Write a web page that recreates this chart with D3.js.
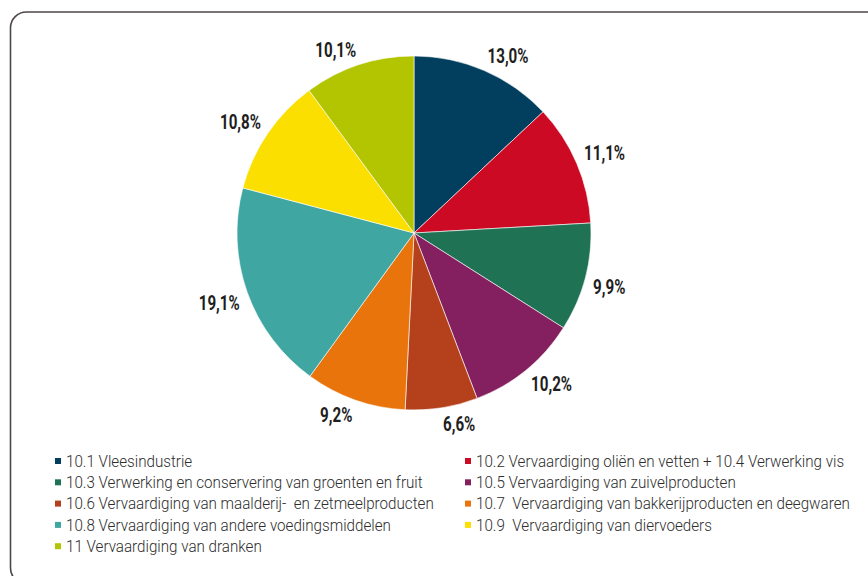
<!DOCTYPE html>
<html>
<head>
<meta charset="utf-8">
<script src="https://cdn.jsdelivr.net/npm/d3@7"></script>
<style>
  html, body { margin: 0; padding: 0; background: #fff; }
  svg { display: block; }
</style>
</head>
<body>
<svg id="chart" width="868" height="576"></svg>
<script>
// Share of food & beverage industry by NACE sub-sector (%)
const categories = [
  "10.1 Vleesindustrie",
  "10.2 Vervaardiging oliën en vetten + 10.4 Verwerking vis",
  "10.3 Verwerking en conservering van groenten en fruit",
  "10.5 Vervaardiging van zuivelproducten",
  "10.6 Vervaardiging van maalderij-  en zetmeelproducten",
  "10.7  Vervaardiging van bakkerijproducten en deegwaren",
  "10.8 Vervaardiging van andere voedingsmiddelen",
  "10.9  Vervaardiging van diervoeders",
  "11 Vervaardiging van dranken"
];
const shares = [13.0, 11.1, 9.9, 10.2, 6.6, 9.2, 19.1, 10.8, 10.1];
const colors = ["#023f5e", "#cc0a24", "#1f7254", "#84205f", "#b4411b", "#e8740b", "#3fa6a2", "#fbdf00", "#b3c400"];

const svg = d3.select("#chart");

// outer panel frame (runs off the right and bottom edge)
svg.append("rect")
  .attr("x", 10.5).attr("y", 12)
  .attr("width", 880).attr("height", 572)
  .attr("rx", 16).attr("ry", 16)
  .attr("fill", "none")
  .attr("stroke", "#4d4646")
  .attr("stroke-width", 1.6);

const cx = 414, cy = 233, R = 177, gap = 8;

const pie = d3.pie().sort(null).value(d => d.v);
const data = shares.map((v, i) => ({ v, name: categories[i], color: colors[i] }));
const arcs = pie(data);

const arc = d3.arc().innerRadius(0).outerRadius(R);

const g = svg.append("g").attr("transform", `translate(${cx},${cy})`);

g.selectAll("path.slice")
  .data(arcs)
  .join("path")
  .attr("class", "slice")
  .attr("d", arc)
  .attr("fill", d => d.data.color)
  .attr("stroke", "#ffffff")
  .attr("stroke-width", 0.6);

const fmt = v => v.toFixed(1).replace(".", ",") + "%";

// value labels outside the rim: the label box sits just beyond the edge,
// pushed outward along the slice's mid-angle by half its own size
const labelFont = "'Roboto', 'Liberation Sans', sans-serif";
const labelScale = 0.74;
const labels = g.selectAll("text.val")
  .data(arcs)
  .join("text")
  .attr("class", "val")
  .attr("font-family", labelFont)
  .attr("font-weight", 700)
  .attr("font-size", 20.5)
  .attr("fill", "#1e1e1e")
  .attr("text-anchor", "middle")
  .attr("dominant-baseline", "central")
  .text(d => fmt(d.data.v));

labels.each(function (d) {
  const w = this.getComputedTextLength() * labelScale;
  const h = 15;
  const a = (d.startAngle + d.endAngle) / 2;
  const ux = Math.sin(a), uy = -Math.cos(a);
  const x = (R + gap) * ux + Math.sign(ux) * w / 2;
  const y = (R + gap) * uy + Math.sign(uy) * h / 2;
  d3.select(this).attr("transform", `translate(${x},${y}) scale(${labelScale},1)`);
});

// legend: two columns, filled row by row
const legendFont = "'Roboto', 'Liberation Sans', sans-serif";
const colX = [55, 465];
const rowY0 = 461, rowStep = 21.3;
const legend = svg.append("g");
const items = legend.selectAll("g.item")
  .data(data)
  .join("g")
  .attr("class", "item")
  .attr("transform", (d, i) => `translate(${colX[i % 2]},${rowY0 + Math.floor(i / 2) * rowStep})`);

items.append("rect")
  .attr("x", 0).attr("y", -3)
  .attr("width", 6).attr("height", 6)
  .attr("fill", d => d.color);

const legendText = items.append("text")
  .attr("x", 0).attr("y", 0)
  .attr("font-family", legendFont)
  .attr("font-weight", 300)
  .attr("font-size", 16.5)
  .attr("fill", "#2e2e2e")
  .attr("dominant-baseline", "central")
  .attr("xml:space", "preserve")
  .style("white-space", "pre")
  .text(d => d.name);

// condense the legend type: the widest entry sets the run length
const natural = legendText.nodes()[4].getComputedTextLength();
const sx = 368 / natural;
legendText.attr("transform", `translate(11,0) scale(${sx},1)`);
</script>
</body>
</html>
